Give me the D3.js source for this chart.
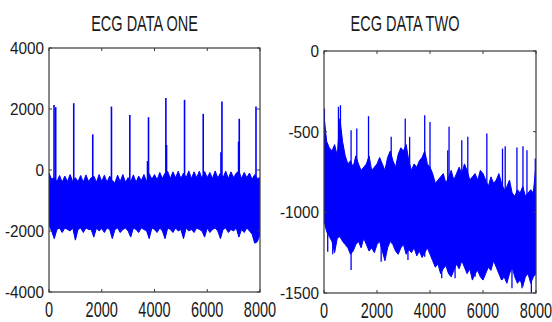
<!DOCTYPE html>
<html><head><meta charset="utf-8">
<script src="https://cdn.jsdelivr.net/npm/d3@7"></script>
<style>html,body{margin:0;padding:0;background:#fff;}svg{display:block;}</style>
</head><body>
<svg id="c" width="552" height="322"></svg>
<script>
// ---------- DATA ----------
const sampleStep = 100; // envelope values every 100 samples, 0..8000
const xTicks = [0, 2000, 4000, 6000, 8000];

// ECG DATA ONE
const oneTitle = "ECG DATA ONE";
const oneYTicks = [4000, 2000, 0, -2000, -4000];
const oneUpper = [-100,-300,-250,-380,-180,-400,-200,-380,-150,-380,-250,-380,-180,-400,-160,-380,-250,-200,-400,-150,
  -380,-170,-400,-200,-350,-420,-170,-380,-150,-400,-250,-380,-160,-400,-200,-350,-150,-380,-120,-300,
  -150,-320,-80,-280,-100,-50,-280,-60,-250,-40,-280,-100,-250,-30,-280,-60,-250,-40,-280,-50,
  -250,-80,-280,-30,-260,-100,-250,-40,-280,-60,-250,-100,-40,-280,-80,-250,-100,-300,-150,-280,-250];
const oneLower = [-1800,-2000,-2250,-1950,-1900,-2050,-1900,-1950,-2000,-1900,-2300,-1950,-1900,-2050,-1900,-1950,-1950,-2200,-1900,-2000,
  -1920,-2050,-1900,-1950,-2250,-1950,-1900,-2050,-1950,-1900,-2000,-2200,-1900,-1950,-2050,-1900,-1950,-2000,-2250,-1900,
  -1950,-2050,-1900,-2000,-2250,-1900,-1950,-2050,-1900,-2000,-1950,-2250,-1900,-2000,-1950,-2050,-1900,-1950,-2000,-2200,
  -1900,-2050,-1950,-1900,-2000,-2250,-1950,-1900,-2050,-1950,-2000,-1900,-2200,-1950,-2050,-1900,-2000,-2100,-2400,-2350,-2100];
const oneSpikeX = [191,254,938,1659,2368,3064,3735,3773,4431,4456,5139,5847,6520,6557,7188,7214,7848];
const oneSpikeV = [2130,2060,2190,1170,2080,1800,295,1730,2360,820,2300,1840,580,2250,930,1680,2080];

// ECG DATA TWO
const twoTitle = "ECG DATA TWO";
const twoYTicks = [0, -500, -1000, -1500];
const twoUpper = [-400,-560,-600,-620,-580,-650,-420,-560,-650,-700,-680,-720,-650,-700,-740,-720,-700,-650,-740,-720,
  -700,-660,-700,-740,-660,-620,-680,-720,-640,-600,-620,-580,-680,-740,-700,-720,-680,-660,-620,-700,
  -720,-760,-820,-800,-780,-760,-820,-780,-740,-800,-760,-720,-760,-700,-740,-800,-780,-760,-800,-740,
  -760,-800,-840,-780,-820,-800,-760,-820,-860,-840,-800,-880,-900,-860,-880,-840,-900,-880,-860,-880,-700];
const twoLower = [-1050,-1120,-1150,-1180,-1250,-1160,-1150,-1180,-1200,-1220,-1260,-1240,-1200,-1180,-1220,-1160,-1200,-1240,-1220,-1250,
  -1200,-1180,-1240,-1300,-1220,-1180,-1200,-1240,-1260,-1220,-1200,-1260,-1230,-1250,-1220,-1270,-1240,-1280,-1250,-1220,
  -1260,-1300,-1340,-1320,-1380,-1350,-1330,-1380,-1400,-1360,-1320,-1350,-1300,-1340,-1380,-1350,-1420,-1380,-1360,-1400,
  -1420,-1380,-1340,-1360,-1300,-1340,-1380,-1420,-1400,-1440,-1380,-1340,-1400,-1440,-1420,-1460,-1400,-1380,-1440,-1400,-1380];
const twoUpSpikeX = [15,545,621,1022,1237,1680,2536,3066,3231,3800,4000,4669,4719,5199,5426,6145,6736,6838,7281,7508,7659,7973];
const twoUpSpikeV = [-357,-346,-336,-491,-481,-404,-532,-419,-532,-398,-440,-615,-470,-553,-532,-512,-605,-590,-598,-590,-615,-666];
const twoDownSpikeX = [140,330,1022,2157,3168,3800,4443,4946,5703,6714,7093,7472,7825];
const twoDownSpikeV = [-1244,-1260,-1358,-1306,-1296,-1275,-1409,-1409,-1400,-1420,-1471,-1471,-1502];

// ---------- DRAW ----------
const svg = d3.select("#c");
const BLUE = "#0000ff";
const AX = "#3a3a3a";
const TXT = "#1a1a1a";
const FONT = "'Liberation Sans', Arial, sans-serif";

function panel(cfg) {
  const x = d3.scaleLinear().domain([0, 8000]).range([cfg.left, cfg.right]);
  const y = d3.scaleLinear().domain(cfg.yDomain).range([cfg.bottom, cfg.top]);
  const g = svg.append("g");
  const clipId = "clip" + cfg.id;
  svg.append("clipPath").attr("id", clipId).append("rect")
    .attr("x", cfg.left).attr("y", cfg.top).attr("width", cfg.right - cfg.left).attr("height", cfg.bottom - cfg.top);
  const plot = g.append("g").attr("clip-path", `url(#${clipId})`);

  const area = d3.area().x((d, i) => x(i * sampleStep)).y0((d, i) => y(cfg.lower[i])).y1(d => y(d));
  plot.append("path").datum(cfg.upper).attr("d", area)
    .attr("fill", BLUE).attr("stroke", BLUE).attr("stroke-width", 1);

  cfg.spikes.forEach(s => {
    plot.selectAll(null).data(s.xs).enter().append("line")
      .attr("x1", d => x(d)).attr("x2", d => x(d))
      .attr("y1", y(s.base)).attr("y2", (d, i) => y(s.vs[i]))
      .attr("stroke", BLUE).attr("stroke-width", s.w);
  });

  // box
  g.append("rect").attr("x", cfg.left).attr("y", cfg.top)
    .attr("width", cfg.right - cfg.left).attr("height", cfg.bottom - cfg.top)
    .attr("fill", "none").attr("stroke", AX).attr("stroke-width", 1.2);

  const tl = 3;
  // x ticks (inward, bottom and top)
  xTicks.forEach(t => {
    g.append("line").attr("x1", x(t)).attr("x2", x(t)).attr("y1", cfg.bottom).attr("y2", cfg.bottom - tl).attr("stroke", AX);
    g.append("line").attr("x1", x(t)).attr("x2", x(t)).attr("y1", cfg.top).attr("y2", cfg.top + tl).attr("stroke", AX);
    g.append("text").text(d3.format("d")(t))
      .attr("transform", `translate(${x(t)},${cfg.bottom + 25}) scale(0.66,1)`)
      .attr("text-anchor", "middle").attr("font-family", FONT).attr("font-size", 22).attr("fill", TXT);
  });
  cfg.yTicks.forEach(t => {
    g.append("line").attr("x1", cfg.left).attr("x2", cfg.left + tl).attr("y1", y(t)).attr("y2", y(t)).attr("stroke", AX);
    g.append("line").attr("x1", cfg.right).attr("x2", cfg.right - tl).attr("y1", y(t)).attr("y2", y(t)).attr("stroke", AX);
    g.append("text").text(t < 0 ? "-" + Math.abs(t) : String(t))
      .attr("transform", `translate(${cfg.left - 5},${y(t) + 6}) scale(0.9,1)`)
      .attr("text-anchor", "end").attr("font-family", FONT).attr("font-size", 17).attr("fill", TXT);
  });
  svg.append("text").text(cfg.title)
    .attr("transform", `translate(${cfg.titleX},31) scale(0.66,1)`)
    .attr("text-anchor", "middle").attr("font-family", FONT).attr("font-size", 22).attr("fill", TXT);
}

panel({
  id: 1, left: 49, right: 260, top: 48, bottom: 292, yDomain: [-4000, 4000], yTicks: oneYTicks,
  upper: oneUpper, lower: oneLower, title: oneTitle, titleX: 144.5,
  spikes: [{ xs: oneSpikeX, vs: oneSpikeV, base: -1000, w: 1.6 }]
});
panel({
  id: 2, left: 324, right: 536, top: 51, bottom: 293, yDomain: [-1500, 0], yTicks: twoYTicks,
  upper: twoUpper, lower: twoLower, title: twoTitle, titleX: 405,
  spikes: [{ xs: twoUpSpikeX, vs: twoUpSpikeV, base: -1000, w: 1.3 },
           { xs: twoDownSpikeX, vs: twoDownSpikeV, base: -1000, w: 1.3 }]
});
</script>
</body></html>
